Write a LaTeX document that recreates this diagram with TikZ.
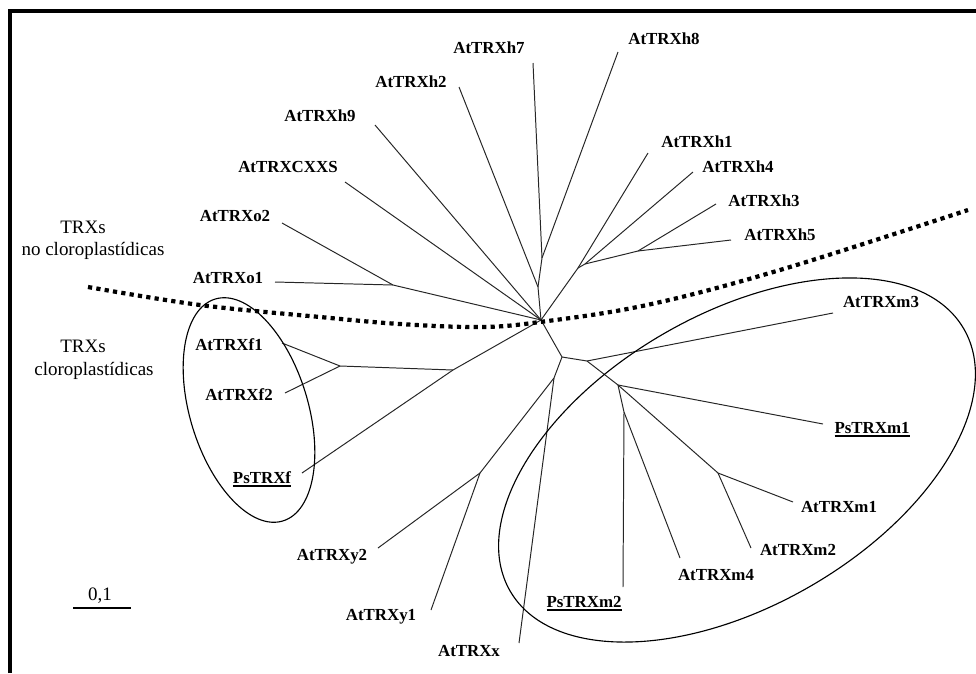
\documentclass[tikz,border=0pt]{standalone}
\usepackage{fontspec}
\setmainfont{Liberation Serif}
\usepackage{tikz}

\tikzset{
  taxon/.style={font=\bfseries\fontsize{12}{13}\selectfont, inner sep=0pt, anchor=base},
  group/.style={font=\fontsize{13.5}{15}\selectfont, inner sep=0pt, anchor=base},
  branch/.style={line width=0.7pt, black!85},
  clade/.style={line width=0.8pt},
  border/.style={line width=2.8pt},
  divide/.style={line width=3pt, dash pattern=on 3pt off 3pt}
}
\newcommand{\psname}[1]{\setbox0\hbox{#1}\rlap{\rule[-2.6pt]{\wd0}{1.2pt}}\box0}

\begin{document}
\begin{tikzpicture}[x=0.025cm, y=-0.025cm]
  \useasboundingbox (0,0) rectangle (976,673);
  \draw[border] (10,673) -- (10,11) -- (976,11);

  \node[taxon] (h7) at (489,53) {AtTRXh7};
  \node[taxon] (h8) at (664,44) {AtTRXh8};
  \node[taxon] (h2) at (411,87) {AtTRXh2};
  \node[taxon] (h9) at (320,121) {AtTRXh9};
  \node[taxon] (cxxs) at (288,172) {AtTRXCXXS};
  \node[taxon] (o2) at (235,221) {AtTRXo2};
  \node[taxon] (o1) at (228,283) {AtTRXo1};
  \node[taxon] (h1) at (697,147) {AtTRXh1};
  \node[taxon] (h4) at (738,172) {AtTRXh4};
  \node[taxon] (h3) at (764,206) {AtTRXh3};
  \node[taxon] (h5) at (780,240) {AtTRXh5};
  \node[taxon] (m3) at (881,307) {AtTRXm3};
  \node[taxon] (psm1) at (872,433) {\psname{PsTRXm1}};
  \node[taxon] (m1) at (839,512) {AtTRXm1};
  \node[taxon] (m2) at (798,555) {AtTRXm2};
  \node[taxon] (m4) at (716,580) {AtTRXm4};
  \node[taxon] (psm2) at (584,607) {\psname{PsTRXm2}};
  \node[taxon] (x) at (469,656) {AtTRXx};
  \node[taxon] (y1) at (381,620) {AtTRXy1};
  \node[taxon] (y2) at (332,560) {AtTRXy2};
  \node[taxon] (psf) at (262,483) {\psname{PsTRXf}};
  \node[taxon] (f2) at (239,400) {AtTRXf2};
  \node[taxon] (f1) at (229,350) {AtTRXf1};

  \node[group] (nocl) at (83,233) {TRXs};
  \node[group] (nocl2) at (93,255) {no cloroplastídicas};
  \node[group] (cl) at (83,352) {TRXs};
  \node[group] (cl2) at (94,375) {cloroplastídicas};

  \coordinate (hub) at (541,320);
  \coordinate (nA) at (538,287);
  \coordinate (nH78) at (542,258);
  \coordinate (nO) at (393,285);
  \coordinate (nHc) at (578,268);
  \coordinate (nH4) at (585,264);
  \coordinate (nH35) at (638,251);
  \coordinate (nF) at (453,370);
  \coordinate (nF12) at (340,366);
  \coordinate (nM) at (562,357);
  \coordinate (nXY) at (554,378);
  \coordinate (nY) at (480,473);
  \coordinate (nMm) at (587,361);
  \coordinate (nMc) at (618,385);
  \coordinate (nM12) at (718,473);
  \coordinate (nP) at (624,412);

  \coordinate (eh7) at (533,63);
  \coordinate (eh8) at (618,52);
  \coordinate (eh2) at (459,87);
  \coordinate (eh9) at (375,125);
  \coordinate (ecxxs) at (345,182);
  \coordinate (eo2) at (282,223);
  \coordinate (eo1) at (275,282);
  \coordinate (eh1) at (648,153);
  \coordinate (eh4) at (693,172);
  \coordinate (eh3) at (716,204);
  \coordinate (eh5) at (731,240);
  \coordinate (em3) at (833,313);
  \coordinate (epsm1) at (823,424);
  \coordinate (em1) at (793,502);
  \coordinate (em2) at (751,548);
  \coordinate (em4) at (680,558);
  \coordinate (epsm2) at (623,587);
  \coordinate (ex) at (519,643);
  \coordinate (ey1) at (431,610);
  \coordinate (ey2) at (378,548);
  \coordinate (epsf) at (302,473);
  \coordinate (ef2) at (285,393);
  \coordinate (ef1) at (282,343);

  \draw[branch] (hub) -- (nA) -- (nH78) -- (eh7);
  \draw[branch] (nH78) -- (eh8);
  \draw[branch] (nA) -- (eh2);
  \draw[branch] (hub) -- (eh9);
  \draw[branch] (hub) -- (ecxxs);
  \draw[branch] (hub) -- (nO) -- (eo1);
  \draw[branch] (nO) -- (eo2);
  \draw[branch] (hub) -- (nHc) -- (eh1);
  \draw[branch] (nHc) -- (nH4) -- (eh4);
  \draw[branch] (nH4) -- (nH35) -- (eh3);
  \draw[branch] (nH35) -- (eh5);
  \draw[branch] (hub) -- (nF) -- (epsf);
  \draw[branch] (nF) -- (nF12) -- (ef1);
  \draw[branch] (nF12) -- (ef2);
  \draw[branch] (hub) -- (nM) -- (nXY) -- (ex);
  \draw[branch] (nXY) -- (nY) -- (ey1);
  \draw[branch] (nY) -- (ey2);
  \draw[branch] (nM) -- (nMm) -- (em3);
  \draw[branch] (nMm) -- (nMc) -- (epsm1);
  \draw[branch] (nMc) -- (nM12) -- (em1);
  \draw[branch] (nM12) -- (em2);
  \draw[branch] (nMc) -- (nP) -- (em4);
  \draw[branch] (nP) -- (epsm2);

  \draw[clade, rotate around={-73:(249,410)}] (249,410) ellipse [x radius=116, y radius=59];
  \draw[clade, rotate around={30:(737,460)}] (737,460) ellipse [x radius=262, y radius=146];

  \draw[divide] plot[smooth, tension=0.6] coordinates {(88,287) (200,305) (320,317) (400,324) (480,327) (540,322) (647,305) (780,270) (968,210)};

  \draw[line width=2pt] (73,608) -- (131,608);
  \node[group] (bar) at (100,600) {0,1};
\end{tikzpicture}
\end{document}
